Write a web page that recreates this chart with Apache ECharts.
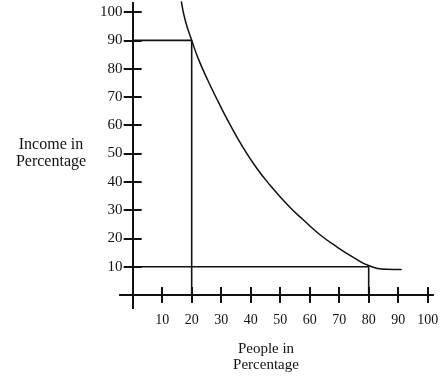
<!DOCTYPE html>
<html>
<head>
<meta charset="utf-8">
<script src="https://cdn.jsdelivr.net/npm/echarts@6/dist/echarts.min.js"></script>
<style>
  html, body { margin: 0; padding: 0; background: #fff; }
  #chart { width: 447px; height: 376px; }
</style>
</head>
<body>
<div id="chart"></div>
<script>
// Income distribution curve (people % vs income %)
const curveX = [16.5, 17.8, 20, 22.4, 25.5, 28.9, 33.0, 37.5, 42.0, 46.5, 52.7, 57.8, 63.5, 69.2, 74.8, 80, 86.1, 91.2];
const curveY = [103.8, 97.1, 90, 83.1, 75.8, 68.5, 60.2, 52.0, 44.9, 38.9, 31.6, 26.6, 21.3, 17.0, 13.3, 10.4, 9.1, 9.0];

// Guide lines: 20% of people hold 90% of income, 80% hold 10%
const guidePeople = [20, 80];
const guideIncome = [90, 10];

// Tick values for both axes
const xTicks = [10, 20, 30, 40, 50, 60, 70, 80, 90, 100];
const yTicks = [10, 20, 30, 40, 50, 60, 70, 80, 90, 100];

const xTitle = 'People in\nPercentage';
const yTitle = 'Income in\nPercentage';

const INK = '#111';
const FONT = "'Liberation Serif', 'DejaVu Serif', serif";

const chart = echarts.init(document.getElementById('chart'), null, { renderer: 'canvas' });

// Two axes per direction: one draws ticks on each side of the axis line
function xAxisDef(withLabels) {
  return {
    type: 'value',
    min: -4.3,
    max: 101.8,
    position: withLabels ? 'bottom' : 'top',
    axisLine: { show: true, onZero: true, onZeroAxisIndex: 0, lineStyle: { color: INK, width: 2 } },
    axisTick: { show: true, inside: false, length: 8, customValues: xTicks, lineStyle: { color: INK, width: 2 } },
    axisLabel: {
      show: withLabels, customValues: xTicks, margin: 5,
      color: INK, fontFamily: FONT, fontSize: 14
    },
    splitLine: { show: false }
  };
}

function yAxisDef(withLabels) {
  return {
    type: 'value',
    min: -4.6,
    max: 103.2,
    position: withLabels ? 'left' : 'right',
    axisLine: { show: true, onZero: true, onZeroAxisIndex: 0, lineStyle: { color: INK, width: 2 } },
    axisTick: { show: true, inside: false, length: 9, customValues: yTicks, lineStyle: { color: INK, width: 2 } },
    axisLabel: {
      show: withLabels, customValues: yTicks, margin: -2.5,
      color: INK, fontFamily: FONT, fontSize: 15
    },
    splitLine: { show: false }
  };
}

const curveData = curveX.map((x, i) => [x, curveY[i]]);
const guideSeries = guidePeople.map((p, i) => ({
  type: 'line',
  xAxisIndex: 0,
  yAxisIndex: 0,
  data: [[0, guideIncome[i]], [p, guideIncome[i]], [p, 0]],
  symbol: 'none',
  silent: true,
  animation: false,
  lineStyle: { color: INK, width: 1.6 }
}));

chart.setOption({
  animation: false,
  backgroundColor: '#fff',
  grid: { left: 120, right: 14, top: 3, bottom: 68, containLabel: false },
  xAxis: [xAxisDef(true), xAxisDef(false)],
  yAxis: [yAxisDef(true), yAxisDef(false)],
  graphic: [
    {
      type: 'text', x: 51, y: 153,
      style: {
        text: yTitle, fill: INK, font: '16px ' + FONT, lineHeight: 17,
        textAlign: 'center', textVerticalAlign: 'middle'
      }
    },
    {
      type: 'text', x: 266, y: 357,
      style: {
        text: xTitle, fill: INK, font: '15px ' + FONT, lineHeight: 16,
        textAlign: 'center', textVerticalAlign: 'middle'
      }
    }
  ],
  series: [
    ...guideSeries,
    {
      type: 'line',
      xAxisIndex: 0,
      yAxisIndex: 0,
      data: curveData,
      smooth: 0.5,
      symbol: 'none',
      clip: false,
      silent: true,
      lineStyle: { color: INK, width: 1.5 }
    }
  ]
});
</script>
</body>
</html>
